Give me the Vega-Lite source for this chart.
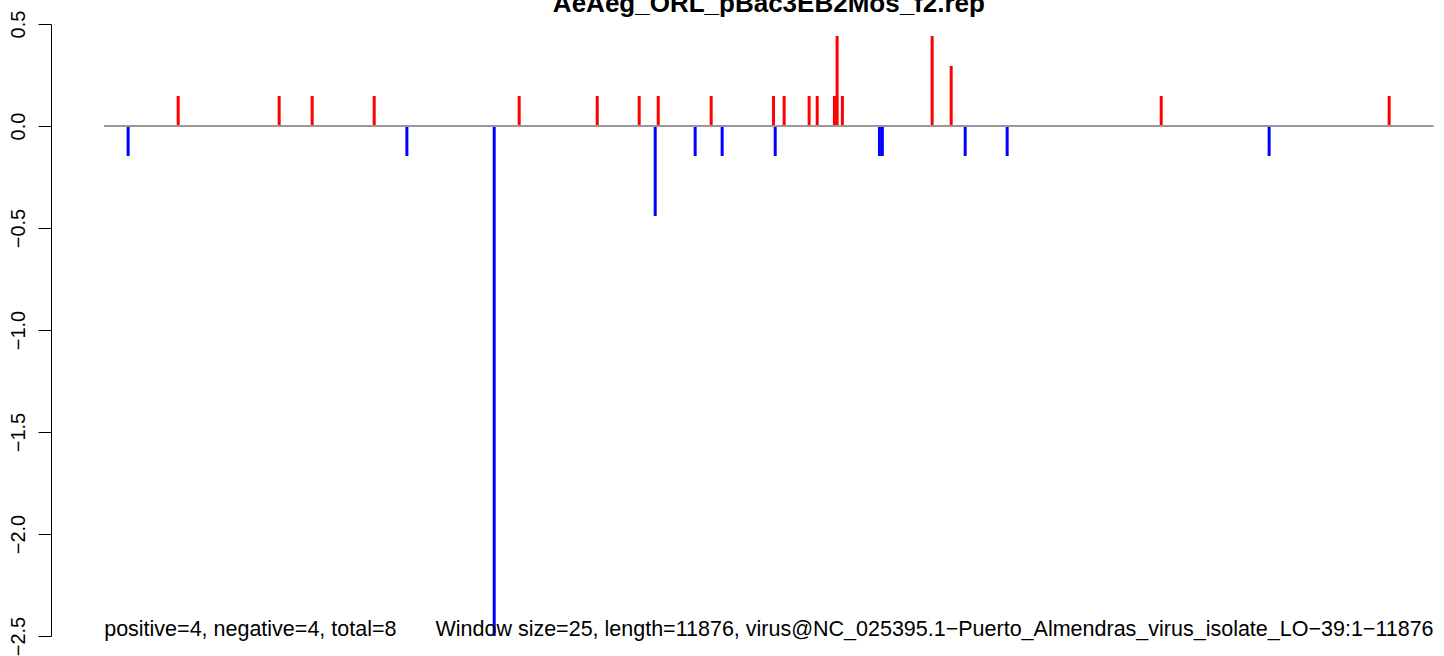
{
  "$schema": "https://vega.github.io/schema/vega-lite/v6.json",
  "width": 1393,
  "height": 612,
  "autosize": {"type": "none"},
  "padding": {"left": 51, "top": 24, "right": 0, "bottom": 20},
  "background": "white",
  "config": {"view": {"stroke": null}, "font": "Liberation Sans"},
  "datasets": {
    "bars": [
      {"pos": 215, "value": -0.147, "sign": "neg"},
      {"pos": 662, "value": 0.147, "sign": "pos"},
      {"pos": 1564, "value": 0.147, "sign": "pos"},
      {"pos": 1859, "value": 0.147, "sign": "pos"},
      {"pos": 2413, "value": 0.147, "sign": "pos"},
      {"pos": 2705, "value": -0.147, "sign": "neg"},
      {"pos": 3485, "value": -2.5, "sign": "neg"},
      {"pos": 3708, "value": 0.147, "sign": "pos"},
      {"pos": 4405, "value": 0.147, "sign": "pos"},
      {"pos": 4780, "value": 0.147, "sign": "pos"},
      {"pos": 4923, "value": -0.441, "sign": "neg"},
      {"pos": 4950, "value": 0.147, "sign": "pos"},
      {"pos": 5280, "value": -0.147, "sign": "neg"},
      {"pos": 5423, "value": 0.147, "sign": "pos"},
      {"pos": 5521, "value": -0.147, "sign": "neg"},
      {"pos": 5980, "value": 0.147, "sign": "pos"},
      {"pos": 5995, "value": -0.147, "sign": "neg"},
      {"pos": 6075, "value": 0.147, "sign": "pos"},
      {"pos": 6298, "value": 0.147, "sign": "pos"},
      {"pos": 6370, "value": 0.147, "sign": "pos"},
      {"pos": 6524, "value": 0.147, "sign": "pos"},
      {"pos": 6548, "value": 0.441, "sign": "pos"},
      {"pos": 6595, "value": 0.147, "sign": "pos"},
      {"pos": 6926, "value": -0.147, "sign": "neg"},
      {"pos": 6952, "value": -0.147, "sign": "neg"},
      {"pos": 7397, "value": 0.441, "sign": "pos"},
      {"pos": 7567, "value": 0.294, "sign": "pos"},
      {"pos": 7692, "value": -0.147, "sign": "neg"},
      {"pos": 8067, "value": -0.147, "sign": "neg"},
      {"pos": 9443, "value": 0.147, "sign": "pos"},
      {"pos": 10407, "value": -0.147, "sign": "neg"},
      {"pos": 11479, "value": 0.147, "sign": "pos"}
    ],
    "baseline": [{"start": 1, "end": 11876, "level": 0}],
    "title": [{"label": "AeAeg_ORL_pBac3EB2Mos_f2.rep"}],
    "notes": [
      {"label": "positive=4, negative=4, total=8", "side": "left"},
      {"label": "Window size=25, length=11876, virus@NC_025395.1−Puerto_Almendras_virus_isolate_LO−39:1−11876", "side": "right"}
    ]
  },
  "layer": [
    {
      "data": {"name": "bars"},
      "mark": {"type": "rule", "strokeWidth": 3},
      "encoding": {
        "x": {"field": "pos", "type": "quantitative", "scale": {"domain": [-474, 11969], "nice": false, "zero": false}, "axis": null},
        "y": {"field": "value", "type": "quantitative", "scale": {"domain": [-2.5, 0.5], "nice": false, "zero": false},
          "axis": {"title": null, "values": [-2.5, -2.0, -1.5, -1.0, -0.5, 0.0, 0.5], "format": ".1f", "grid": false,
            "domainColor": "black", "domainWidth": 1, "tickColor": "black", "tickWidth": 1, "tickSize": 13,
            "labelAngle": 270, "labelAlign": "center", "labelBaseline": "bottom", "labelPadding": 10,
            "labelFontSize": 20, "labelColor": "black", "labelFont": "Liberation Sans", "labelOverlap": false, "labelBound": false, "labelFlush": false}},
        "y2": {"datum": 0},
        "color": {"field": "sign", "type": "nominal", "scale": {"domain": ["pos", "neg"], "range": ["#ff0000", "#0000ff"]}, "legend": null}
      }
    },
    {
      "data": {"name": "baseline"},
      "mark": {"type": "rule", "color": "#999999", "strokeWidth": 2},
      "encoding": {
        "x": {"field": "start", "type": "quantitative"},
        "x2": {"field": "end"},
        "y": {"field": "level", "type": "quantitative"}
      }
    },
    {
      "data": {"name": "title"},
      "mark": {"type": "text", "fontSize": 26, "fontWeight": "bold", "align": "center", "baseline": "alphabetic", "color": "black", "font": "Liberation Sans"},
      "encoding": {
        "x": {"datum": 5938.5},
        "y": {"datum": 0.557},
        "text": {"field": "label"}
      }
    },
    {
      "data": {"name": "notes"},
      "transform": [{"filter": "datum.side == 'left'"}],
      "mark": {"type": "text", "fontSize": 21.5, "align": "left", "baseline": "alphabetic", "color": "black", "font": "Liberation Sans"},
      "encoding": {
        "x": {"datum": 1},
        "y": {"datum": -2.5},
        "text": {"field": "label"}
      }
    },
    {
      "data": {"name": "notes"},
      "transform": [{"filter": "datum.side == 'right'"}],
      "mark": {"type": "text", "fontSize": 21.5, "align": "right", "baseline": "alphabetic", "color": "black", "font": "Liberation Sans"},
      "encoding": {
        "x": {"datum": 11876},
        "y": {"datum": -2.5},
        "text": {"field": "label"}
      }
    }
  ]
}
